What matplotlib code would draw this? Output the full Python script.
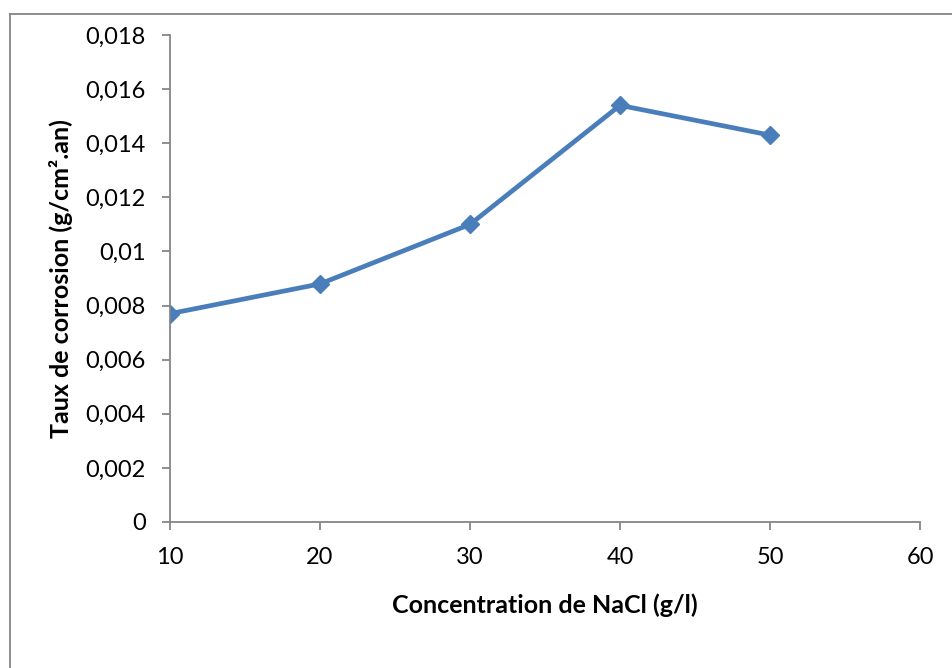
import numpy as np
import matplotlib
matplotlib.use("Agg")
import matplotlib.pyplot as plt
from matplotlib.ticker import FuncFormatter
from matplotlib.lines import Line2D

concentration = [10, 20, 30, 40, 50]
taux = [0.0077, 0.0088, 0.011, 0.0154, 0.0143]
x_ticks = [10, 20, 30, 40, 50, 60]
y_ticks = [0, 0.002, 0.004, 0.006, 0.008, 0.01, 0.012, 0.014, 0.016, 0.018]

plt.rcParams['font.family'] = ['Lato', 'DejaVu Sans']
grey = '#868686'
blue = '#4A7EBB'

fig = plt.figure(figsize=(9.52, 6.68), dpi=100)
ax = fig.add_axes([0.1786, 0.2186, 0.9664 - 0.1786, 0.9476 - 0.2186])

ax.plot(concentration, taux, color=blue, lw=3.4, marker='D', markersize=9.5,
        markerfacecolor=blue, markeredgecolor=blue)

ax.set_xlim(10, 60)
ax.set_ylim(0, 0.018)
ax.set_xticks(x_ticks)
ax.set_yticks(y_ticks)

def virgule(v, pos):
    if abs(v) < 1e-12:
        return '0'
    return f'{round(v, 4):g}'.replace('.', ',')

ax.yaxis.set_major_formatter(FuncFormatter(virgule))

for side in ['top', 'right']:
    ax.spines[side].set_visible(False)
for side in ['left', 'bottom']:
    ax.spines[side].set_color(grey)
    ax.spines[side].set_linewidth(1.3)
ax.tick_params(axis='both', direction='out', length=5.5, width=1.3, color=grey,
               labelsize=17, labelcolor='black')
ax.tick_params(axis='y', pad=12)
ax.tick_params(axis='x', pad=12.5)

ax.set_xlabel('Concentration de NaCl (g/l)', fontsize=18, fontweight='bold', labelpad=18)
ax.set_ylabel('Taux de corrosion (g/cm².an)', fontsize=18, fontweight='bold', labelpad=9)

# outer frame of the chart area
fig.add_artist(Line2D([0.0105, 0.0105], [0, 0.9795], transform=fig.transFigure, color=grey, lw=1.3))
fig.add_artist(Line2D([0.0105, 1], [0.9795, 0.9795], transform=fig.transFigure, color=grey, lw=1.3))

fig.savefig('out.png', dpi=100)
